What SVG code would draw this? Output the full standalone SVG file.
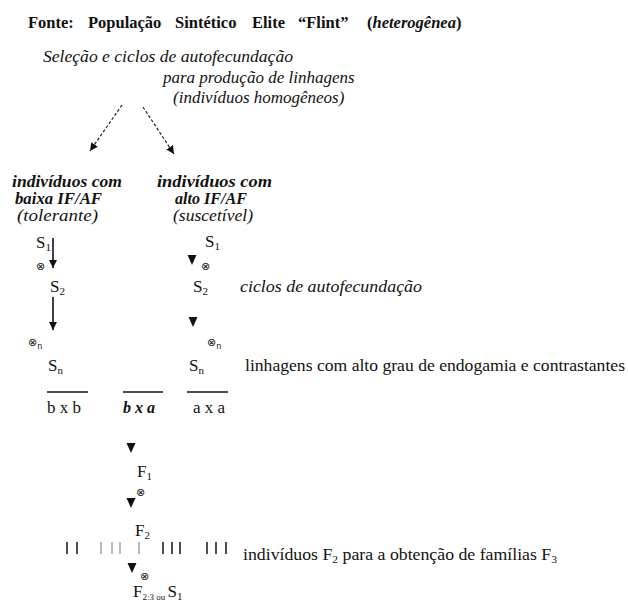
<svg xmlns="http://www.w3.org/2000/svg" xmlns:xlink="http://www.w3.org/1999/xlink" width="628" height="605" viewBox="0 0 628 605">
<style>
text{font-family:"Liberation Serif","DejaVu Serif",serif;fill:#111;}
.title{font-size:16.5px;font-weight:bold;}
.it{font-family:"Liberation Serif","DejaVu Serif",serif;font-style:italic;font-size:17px;}
.bi{font-family:"Liberation Serif","DejaVu Serif",serif;font-style:italic;font-weight:bold;font-size:16px;}
.rg{font-size:17px;}
.sym{font-family:"DejaVu Sans",sans-serif;font-size:11px;}
.ln{stroke:#111;stroke-width:1.6;fill:none;}
.dash{stroke:#222;stroke-width:1.2;fill:none;stroke-dasharray:3 2;}
.tick{stroke:#222;stroke-width:1.6;}
.tickf{stroke:#aaa;stroke-width:1.6;}
.tri{fill:#111;}
</style>
<defs>
<marker id="ah" viewBox="0 0 10 10" refX="10" refY="5" markerWidth="8" markerHeight="8" markerUnits="userSpaceOnUse" orient="auto">
<path d="M0,0 L10,5 L0,10 Z" fill="#111"/>
</marker>
<path id="tri" d="M-4.5,-10 L4.5,-10 L0,0 Z"/>
</defs>

<g id="title">
<text class="title" x="28" y="28">Fonte:</text>
<text class="title" x="88" y="28">População</text>
<text class="title" x="175" y="28">Sintético</text>
<text class="title" x="252" y="28">Elite</text>
<text class="title" x="298" y="28">“Flint”</text>
<text class="title" x="367" y="28" font-size="16">(<tspan font-style="italic">heterogênea</tspan>)</text>
</g>

<g id="selecao">
<text class="it" x="43" y="62" textLength="250" lengthAdjust="spacingAndGlyphs">Seleção e ciclos de autofecundação</text>
<text class="it" x="163" y="83">para produção de linhagens</text>
<text class="it" x="173" y="103">(indivíduos homogêneos)</text>
</g>

<g id="connectors">
<line class="dash" x1="122" y1="105" x2="90" y2="151" marker-end="url(#ah)"/>
<line class="dash" x1="143" y1="107" x2="174" y2="154" marker-end="url(#ah)"/>
<line class="ln" x1="53" y1="238" x2="53" y2="268" marker-end="url(#ah)"/>
<line class="ln" x1="53" y1="297" x2="53" y2="330" marker-end="url(#ah)"/>
<use href="#tri" class="tri" x="192" y="265"/>
<use href="#tri" class="tri" x="193" y="327"/>
<use href="#tri" class="tri" x="131" y="453"/>
<use href="#tri" class="tri" x="131" y="508"/>
<use href="#tri" class="tri" x="132" y="573"/>
</g>

<g id="baixo">
<text class="bi" x="12" y="187" textLength="110" lengthAdjust="spacingAndGlyphs">indivíduos com</text>
<text class="bi" x="15" y="204" textLength="87" lengthAdjust="spacingAndGlyphs">baixa IF/AF</text>
<text class="it" x="17" y="221" font-size="15.5" textLength="81" lengthAdjust="spacingAndGlyphs">(tolerante)</text>
</g>

<g id="alto">
<text class="bi" x="157" y="187" textLength="115" lengthAdjust="spacingAndGlyphs">indivíduos com</text>
<text class="bi" x="175" y="204" textLength="72" lengthAdjust="spacingAndGlyphs">alto IF/AF</text>
<text class="it" x="173" y="221" font-size="15.5" textLength="80" lengthAdjust="spacingAndGlyphs">(suscetível)</text>
</g>

<g id="esquerda">
<text class="rg" x="36" y="248">S<tspan font-size="11" dy="3">1</tspan></text>
<text class="sym" x="36" y="270">⊗</text>
<text class="rg" x="50" y="292">S<tspan font-size="11" dy="3">2</tspan></text>
<text class="sym" x="28" y="346">⊗<tspan font-size="8" dy="3">n</tspan></text>
<text class="rg" x="48" y="371">S<tspan font-size="11" dy="3">n</tspan></text>
</g>

<g id="direita">
<text class="rg" x="205" y="247">S<tspan font-size="11" dy="3">1</tspan></text>
<text class="sym" x="201" y="270">⊗</text>
<text class="rg" x="193" y="292">S<tspan font-size="11" dy="3">2</tspan></text>
<text class="sym" x="207" y="346">⊗<tspan font-size="8" dy="3">n</tspan></text>
<text class="rg" x="189" y="371">S<tspan font-size="11" dy="3">n</tspan></text>
</g>

<g id="ciclos">
<text class="it" x="240" y="292" font-size="16" textLength="182" lengthAdjust="spacingAndGlyphs">ciclos de autofecundação</text>
</g>

<g id="linhagens">
<text class="rg" x="245" y="371" textLength="380" lengthAdjust="spacingAndGlyphs">linhagens com alto grau de endogamia e contrastantes</text>
</g>

<g id="cruzamentos">
<line class="ln" x1="47" y1="392" x2="88" y2="392"/>
<line class="ln" x1="123" y1="392" x2="163" y2="392"/>
<line class="ln" x1="187" y1="392" x2="228" y2="392"/>
<text class="rg" x="47" y="413">b x b</text>
<text class="bi" x="123" y="413" font-size="17">b x a</text>
<text class="rg" x="193" y="413">a x a</text>
</g>

<g id="f1">
<text class="rg" x="137" y="477">F<tspan font-size="11" dy="3">1</tspan></text>
<text class="sym" x="136" y="496">⊗</text>
</g>

<g id="f2">
<text class="rg" x="135" y="536">F<tspan font-size="11" dy="3">2</tspan></text>
<line class="tick" x1="67" y1="542" x2="67" y2="554"/>
<line class="tick" x1="77" y1="542" x2="77" y2="554"/>
<line class="tickf" x1="101" y1="542" x2="101" y2="554"/>
<line class="tickf" x1="112" y1="542" x2="112" y2="554"/>
<line class="tickf" x1="120" y1="542" x2="120" y2="554"/>
<line class="tickf" x1="139" y1="542" x2="139" y2="554"/>
<line class="tick" x1="163" y1="542" x2="163" y2="554"/>
<line class="tick" x1="172" y1="542" x2="172" y2="554"/>
<line class="tick" x1="180" y1="542" x2="180" y2="554"/>
<line class="tick" x1="207" y1="542" x2="207" y2="554"/>
<line class="tick" x1="216" y1="542" x2="216" y2="554"/>
<line class="tick" x1="226" y1="542" x2="226" y2="554"/>
<text class="rg" x="243" y="560" textLength="314" lengthAdjust="spacingAndGlyphs">indivíduos F<tspan font-size="11" dy="3">2</tspan><tspan dy="-3"> para a obtenção de famílias F</tspan><tspan font-size="11" dy="3">3</tspan></text>
</g>

<g id="f3">
<text class="sym" x="140" y="580">⊗</text>
<text class="rg" x="133" y="597">F<tspan font-size="9" dy="3">2:3 ou </tspan><tspan dy="-3">S</tspan><tspan font-size="11" dy="3">1</tspan></text>
</g>
</svg>
